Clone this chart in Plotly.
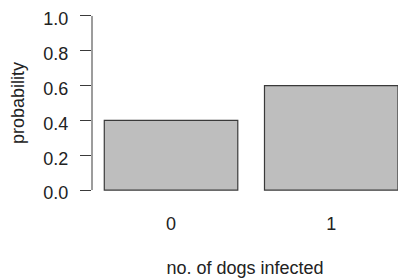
import plotly.graph_objects as go

categories = ["0", "1"]
probabilities = [0.4, 0.6]
y_ticks = [0.0, 0.2, 0.4, 0.6, 0.8, 1.0]
y_tick_labels = ["0.0", "0.2", "0.4", "0.6", "0.8", "1.0"]

FONT = "Liberation Sans, Arial, sans-serif"
LINE = "#3a3a3a"

fig = go.Figure(
    go.Bar(
        x=categories,
        y=probabilities,
        marker=dict(color="#BEBEBE", line=dict(color=LINE, width=1.2)),
        hoverinfo="skip",
    )
)

fig.update_layout(
    width=398,
    height=278,
    margin=dict(l=92, r=0, t=9, b=81),
    paper_bgcolor="white",
    plot_bgcolor="white",
    showlegend=False,
    bargap=1 - 1 / 1.2,
    font=dict(family=FONT, size=18, color="#222"),
)

fig.update_xaxes(
    type="category",
    range=[-0.4933, 1.4167],
    automargin=False,
    showline=False,
    showgrid=False,
    zeroline=False,
    ticks="outside",
    ticklen=10,
    tickcolor="rgba(0,0,0,0)",
    tickfont=dict(family=FONT, size=18, color="#222"),
    title=dict(text="no. of dogs infected", font=dict(family=FONT, size=18, color="#222"), standoff=28),
)

fig.update_yaxes(
    range=[-0.04, 1.04],
    automargin=False,
    tickvals=y_ticks,
    ticktext=y_tick_labels,
    showline=False,
    showgrid=False,
    zeroline=False,
    ticks="outside",
    ticklen=11,
    tickwidth=1,
    tickcolor=LINE,
    ticklabelstandoff=8,
    ticklabelshift=3,
    tickfont=dict(family=FONT, size=18, color="#222"),
    title=dict(text="probability", font=dict(family=FONT, size=18, color="#222"), standoff=14),
)

fig.add_shape(
    type="line", xref="paper", yref="y",
    x0=0, x1=0, y0=y_ticks[0], y1=y_ticks[-1],
    line=dict(color=LINE, width=1),
)

fig.write_html(
    "out.html",
    config={"displayModeBar": False, "staticPlot": True},
    post_script="document.body.style.margin='0';document.body.style.overflow='hidden';",
)
